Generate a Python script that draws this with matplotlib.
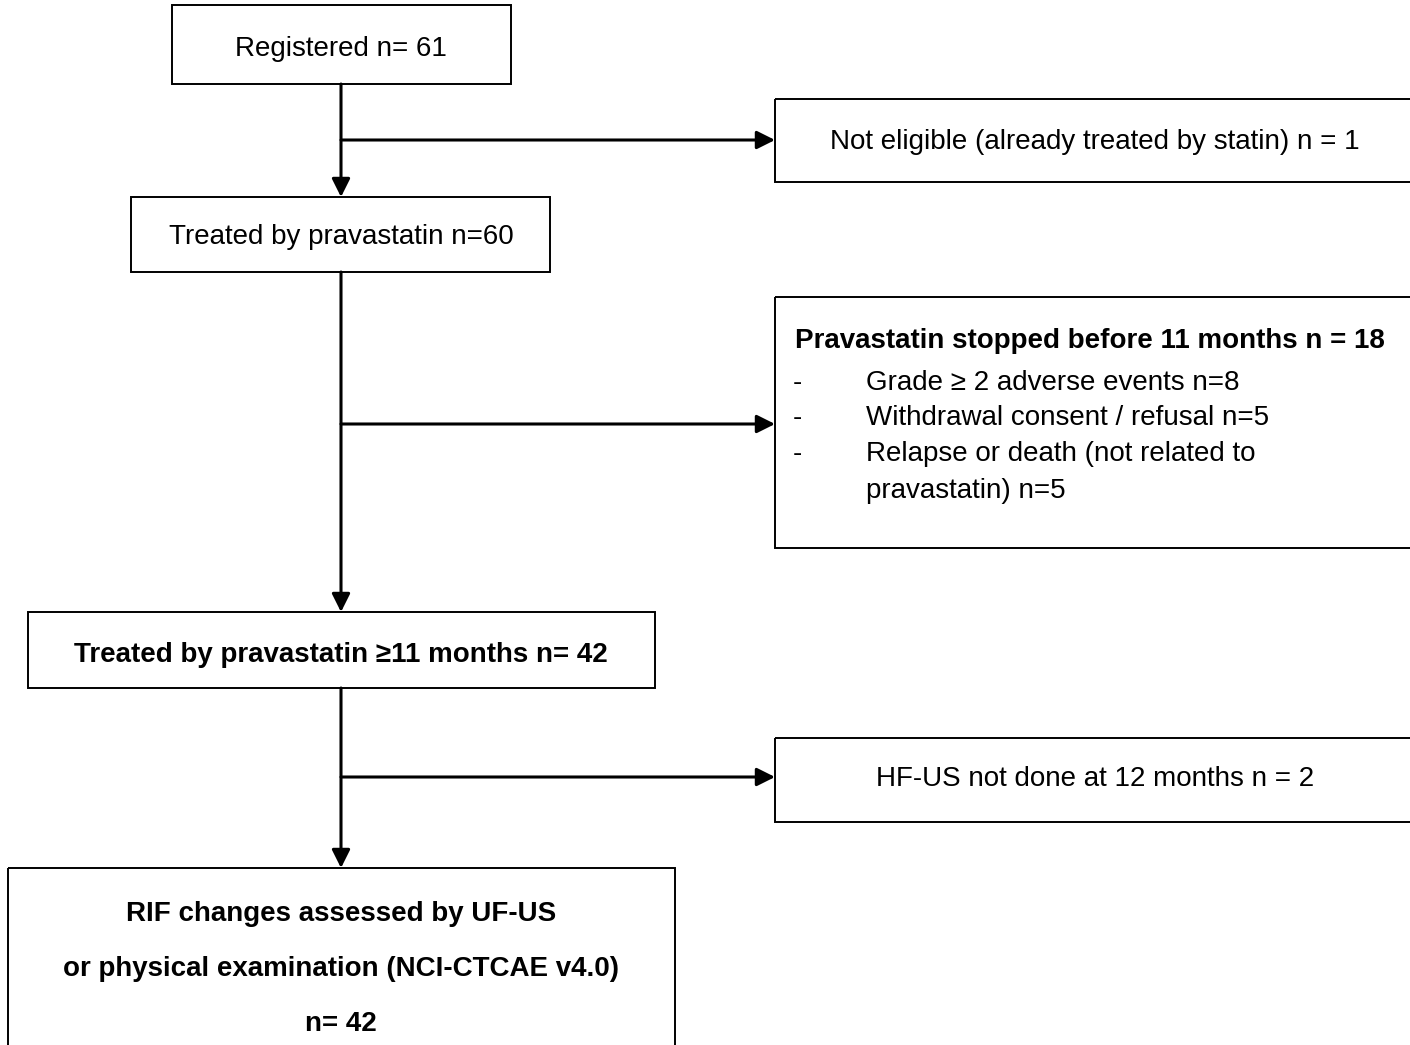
import matplotlib
matplotlib.use("Agg")
import matplotlib.pyplot as plt
from matplotlib.patches import Rectangle

plt.rcParams['font.family'] = ['Liberation Sans', 'DejaVu Sans']

# ---- content ----
main_labels = [
    "Registered n= 61",
    "Treated by pravastatin n=60",
    "Treated by pravastatin \u226511 months n= 42",
]
final_lines = [
    "RIF changes assessed by UF-US",
    "or physical examination (NCI-CTCAE v4.0)",
    "n= 42",
]
excl1 = "Not eligible (already treated by statin) n = 1"
excl2_title = "Pravastatin stopped before 11 months n = 18"
excl2_items = [
    ["Grade \u2265 2 adverse events n=8"],
    ["Withdrawal consent / refusal n=5"],
    ["Relapse or death (not related to", "pravastatin) n=5"],
]
excl3 = "HF-US not done at 12 months n = 2"

W, H = 1410, 1045
fig = plt.figure(figsize=(W / 100, H / 100), dpi=100)
ax = fig.add_axes([0, 0, 1, 1])
ax.set_xlim(0, W)
ax.set_ylim(H, 0)
ax.axis('off')

FS = 20
LW = 1.4
DY = 2  # small vertical text offset


def box(x0, y0, x1, y1):
    ax.add_patch(Rectangle((x0, y0), x1 - x0, y1 - y0, fill=False,
                           edgecolor='black', linewidth=LW))


def arrow(x0, y0, x1, y1):
    ax.annotate('', xy=(x1, y1), xytext=(x0, y0),
                arrowprops=dict(arrowstyle='-|>,head_length=1.1,head_width=0.55',
                                mutation_scale=10, color='black', lw=2.2,
                                shrinkA=0, shrinkB=0))


# main column boxes
box(172, 5, 511, 84)
ax.text(341, 47 + DY, main_labels[0], ha='center', va='center', fontsize=FS)
box(131, 197, 550, 272)
ax.text(341, 235 + DY, main_labels[1], ha='center', va='center', fontsize=FS)
box(28, 612, 655, 688)
ax.text(341, 653 + DY, main_labels[2], ha='center', va='center', fontsize=FS,
        fontweight='bold')
box(8, 868, 675, 1060)
for i, t in enumerate(final_lines):
    ax.text(341, 912 + DY + i * 55, t, ha='center', va='center', fontsize=FS,
            fontweight='bold')

# exclusion boxes
box(775, 99, 1420, 182)
ax.text(1095, 140 + DY, excl1, ha='center', va='center', fontsize=FS)
box(775, 297, 1420, 548)
ax.text(795, 339 + DY, excl2_title, ha='left', va='center', fontsize=FS,
        fontweight='bold')
ys = [381, 416, 452]
for y, lines in zip(ys, excl2_items):
    ax.text(793, y + DY, '-', ha='left', va='center', fontsize=FS)
    for j, ln in enumerate(lines):
        ax.text(866, y + DY + j * 37, ln, ha='left', va='center', fontsize=FS)
box(775, 738, 1420, 822)
ax.text(1095, 777 + DY, excl3, ha='center', va='center', fontsize=FS)

# connectors
arrow(341, 84, 341, 197)
arrow(341, 140, 775, 140)
arrow(341, 272, 341, 612)
arrow(341, 424, 775, 424)
arrow(341, 688, 341, 868)
arrow(341, 777, 775, 777)

fig.savefig('out.png', dpi=100, facecolor='white')
